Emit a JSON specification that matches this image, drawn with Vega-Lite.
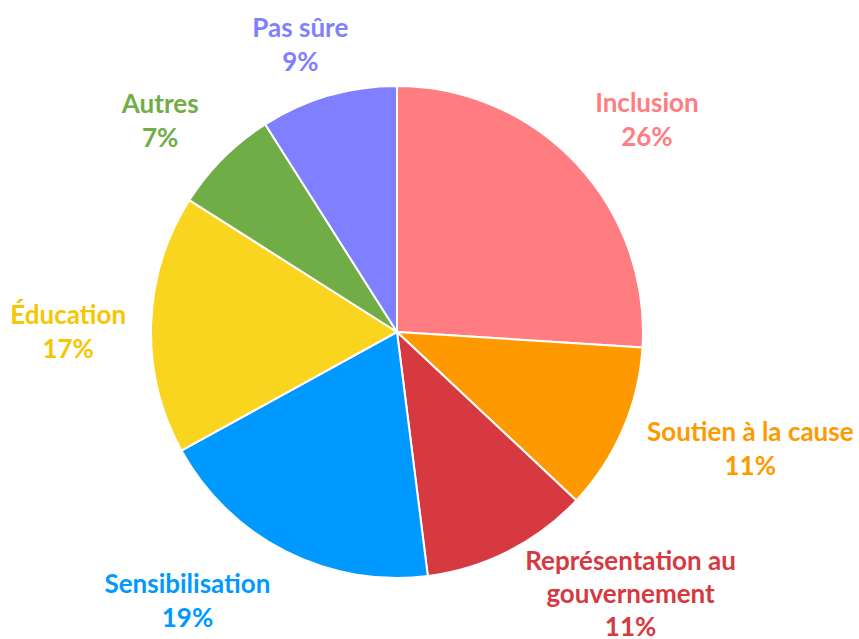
{
  "$schema": "https://vega.github.io/schema/vega-lite/v6.json",
  "width": 794,
  "height": 614,
  "autosize": "none",
  "padding": {"left": 0, "right": 65, "top": 25, "bottom": 0},
  "background": "white",
  "config": {"view": {"stroke": null}},
  "data": {
    "values": [
      {"cat": "Inclusion", "value": 26, "order": 1, "label": "Inclusion\n26%"},
      {"cat": "Soutien à la cause", "value": 11, "order": 2, "label": "Soutien à la cause\n11%"},
      {"cat": "Représentation au gouvernement", "value": 11, "order": 3, "label": "Représentation au\ngouvernement\n11%"},
      {"cat": "Sensibilisation", "value": 19, "order": 4, "label": "Sensibilisation\n19%"},
      {"cat": "Éducation", "value": 17, "order": 5, "label": "Éducation\n17%"},
      {"cat": "Autres", "value": 7, "order": 6, "label": "Autres\n7%"},
      {"cat": "Pas sûre", "value": 9, "order": 7, "label": "Pas sûre\n9%"}
    ]
  },
  "encoding": {
    "theta": {"field": "value", "type": "quantitative", "stack": true},
    "order": {"field": "order", "type": "quantitative"},
    "color": {
      "field": "cat",
      "type": "nominal",
      "legend": null,
      "scale": {
        "domain": ["Inclusion", "Soutien à la cause", "Représentation au gouvernement", "Sensibilisation", "Éducation", "Autres", "Pas sûre"],
        "range": ["#FF7C80", "#FF9900", "#D6393F", "#0099FF", "#FAD51F", "#70AD47", "#7F7FFF"]
      }
    }
  },
  "layer": [
    {"mark": {"type": "arc", "outerRadius": 246, "stroke": "white", "strokeWidth": 2}},
    {"mark": {"type": "text", "radius": 325, "dx": 13, "dy": -6, "font": "Lato", "fontWeight": "bold", "fontSize": 26, "lineHeight": 34, "lineBreak": "\n", "align": "center", "baseline": "middle"},
     "encoding": {"text": {"condition": {"test": "datum.cat === 'Inclusion'", "field": "label"}, "value": ""}}},
    {"mark": {"type": "text", "radius": 325, "dx": 55, "dy": -28, "font": "Lato", "fontWeight": "bold", "fontSize": 26, "lineHeight": 34, "lineBreak": "\n", "align": "center", "baseline": "middle"},
     "encoding": {"text": {"condition": {"test": "datum.cat === 'Soutien à la cause'", "field": "label"}, "value": ""}}},
    {"mark": {"type": "text", "radius": 325, "dx": 86, "dy": -60, "font": "Lato", "fontWeight": "bold", "fontSize": 26, "lineHeight": 33, "lineBreak": "\n", "align": "center", "baseline": "middle"},
     "encoding": {"text": {"condition": {"test": "datum.cat === 'Représentation au gouvernement'", "field": "label"}, "value": ""}}},
    {"mark": {"type": "text", "radius": 325, "dx": -62, "dy": -37, "font": "Lato", "fontWeight": "bold", "fontSize": 26, "lineHeight": 34, "lineBreak": "\n", "align": "center", "baseline": "middle"},
     "encoding": {"text": {"condition": {"test": "datum.cat === 'Sensibilisation'", "field": "label"}, "value": ""}}},
    {"mark": {"type": "text", "radius": 325, "dx": -4, "dy": -6, "font": "Lato", "fontWeight": "bold", "fontSize": 26, "lineHeight": 34, "lineBreak": "\n", "align": "center", "baseline": "middle"},
     "encoding": {"color": {"value": "#F7C600"}, "text": {"condition": {"test": "datum.cat === 'Éducation'", "field": "label"}, "value": ""}}},
    {"mark": {"type": "text", "radius": 325, "dx": -7, "dy": 3, "font": "Lato", "fontWeight": "bold", "fontSize": 26, "lineHeight": 34, "lineBreak": "\n", "align": "center", "baseline": "middle"},
     "encoding": {"text": {"condition": {"test": "datum.cat === 'Autres'", "field": "label"}, "value": ""}}},
    {"mark": {"type": "text", "radius": 325, "dx": -6, "dy": 9, "font": "Lato", "fontWeight": "bold", "fontSize": 26, "lineHeight": 34, "lineBreak": "\n", "align": "center", "baseline": "middle"},
     "encoding": {"text": {"condition": {"test": "datum.cat === 'Pas sûre'", "field": "label"}, "value": ""}}}
  ]
}
